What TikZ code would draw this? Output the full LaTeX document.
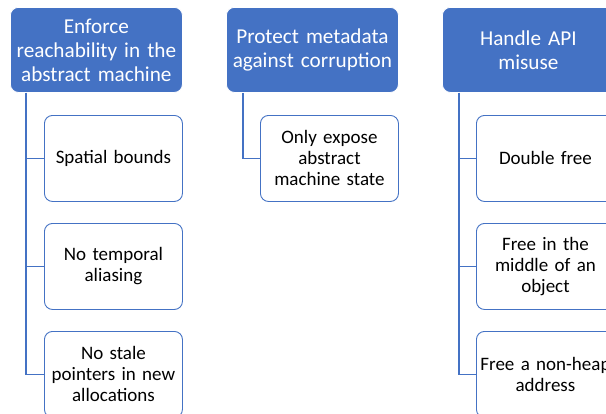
\documentclass[tikz,border=0pt]{standalone}
\usepackage{fontspec}
\setmainfont{Carlito}
\definecolor{obl}{HTML}{4472C4}
\begin{document}
\begin{tikzpicture}[x=1pt,y=-1pt,
 head/.style={draw=white, line width=0.8pt, fill=obl, rounded corners=8pt,
   minimum width=172pt, minimum height=85pt, text width=168pt, align=center,
   text=white, font=\fontsize{21.2}{24}\selectfont, inner sep=0pt, anchor=north west},
 child/.style={draw=obl, line width=0.9pt, fill=white, rounded corners=8pt,
   minimum width=138pt, minimum height=86pt, text width=134pt, align=center,
   font=\fontsize{19}{21}\selectfont, inner sep=0pt, anchor=north west},
 link/.style={draw=obl, line width=1.4pt}]
\useasboundingbox (0,0) rectangle (606,413);
\clip (0,0) rectangle (606,413);
% headers
\node[head] (h1) at (10,7) {Enforce\\reachability in the\\abstract machine};
\node[head] (h2) at (226,7) {Protect metadata\\against corruption};
\node[head] (h3) at (442,7) {Handle API\\misuse};
% children column 1
\node[child] (c11) at (44,115) {Spatial bounds};
\node[child] (c12) at (44,223) {No temporal\\aliasing};
\node[child] (c13) at (44,331) {No stale\\pointers in new\\allocations};
% child column 2
\node[child] (c21) at (260,115) {Only expose\\abstract\\machine state};
% children column 3
\node[child] (c31) at (476,115) {Double free};
\node[child] (c32) at (476,223) {Free in the\\middle of an\\object};
\node[child] (c33) at (476,331) {Free a non-heap\\address};
% connectors
\draw[link] ([xshift=16pt]h1.south west) |- (c11.west);
\draw[link] ([xshift=16pt]h1.south west) |- (c12.west);
\draw[link] ([xshift=16pt]h1.south west) |- (c13.west);
\draw[link] ([xshift=17pt]h2.south west) |- (c21.west);
\draw[link] ([xshift=17pt]h3.south west) |- (c31.west);
\draw[link] ([xshift=17pt]h3.south west) |- (c32.west);
\draw[link] ([xshift=17pt]h3.south west) |- (c33.west);
\end{tikzpicture}
\end{document}
